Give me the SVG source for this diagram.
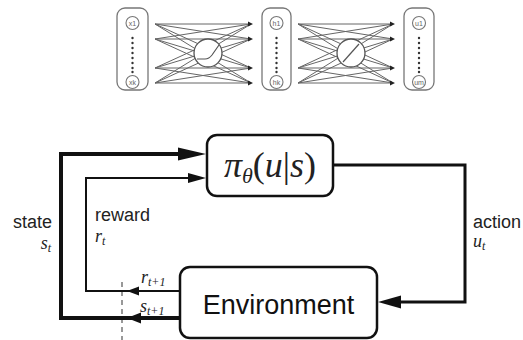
<svg xmlns="http://www.w3.org/2000/svg" width="523" height="340" viewBox="0 0 523 340">
<style>
  .col{fill:#fff;stroke:#777;stroke-width:1.3}
  .unit{fill:#fff;stroke:#777;stroke-width:1.1}
  .ut{font-family:"Liberation Sans",Arial,sans-serif;font-size:7px;fill:#666;text-anchor:middle}
  .dot{fill:#333}
  .w{stroke:#666;stroke-width:1;fill:none}
  .neu{fill:#fff;stroke:#555;stroke-width:1.3}
  .act{fill:none;stroke:#555;stroke-width:1.2}
  .tip{fill:#222}
  .box{fill:#fff;stroke:#111;stroke-width:2.5}
  .lbl{font-family:"Liberation Sans",Arial,sans-serif;font-size:18px;fill:#222}
  .m{font-family:"Liberation Serif","Times New Roman",serif;font-style:italic;fill:#222}
  .ln{fill:none;stroke:#111;stroke-linejoin:miter}
  .ah{fill:#111}
</style>
<g id="network">
  <g id="input-layer">
    <rect class="col" x="117" y="8" width="31" height="82" rx="8"/>
    <circle class="unit" cx="132.5" cy="23" r="6.5"/><text class="ut" x="132.5" y="25.5">x1</text>
    <circle class="unit" cx="132.5" cy="82" r="6.5"/><text class="ut" x="132.5" y="84.5">xk</text>
    <g class="dot"><circle cx="132.5" cy="38" r="1.2"/><circle cx="132.5" cy="43" r="1.2"/><circle cx="132.5" cy="48" r="1.2"/><circle cx="132.5" cy="53" r="1.2"/><circle cx="132.5" cy="58" r="1.2"/><circle cx="132.5" cy="63" r="1.2"/><circle cx="132.5" cy="68" r="1.2"/><circle cx="132.5" cy="72" r="1.2"/></g>
  </g>
  <g id="weights-1">
    <path class="w" d="M155 24L251 24M155 24L251 39M155 24L251 68M155 24L251 83M155 39L251 24M155 39L251 39M155 39L251 68M155 39L251 83M155 68L251 24M155 68L251 39M155 68L251 68M155 68L251 83M155 83L251 24M155 83L251 39M155 83L251 68M155 83L251 83"/>
    <circle class="neu" cx="208" cy="53" r="14"/>
    <path class="act" d="M197 59L205 59Q209 59 212 55L219 45"/>
    <path class="tip" d="M253 24l-5 -2.5v5zM253 39l-5 -2.5v5zM253 68l-5 -2.5v5zM253 83l-5 -2.5v5z"/>
  </g>
  <g id="hidden-layer">
    <rect class="col" x="262" y="8" width="29" height="82" rx="8"/>
    <circle class="unit" cx="276.5" cy="23" r="6.5"/><text class="ut" x="276.5" y="25.5">h1</text>
    <circle class="unit" cx="276.5" cy="82" r="6.5"/><text class="ut" x="276.5" y="84.5">hk</text>
    <g class="dot"><circle cx="276.5" cy="38" r="1.2"/><circle cx="276.5" cy="43" r="1.2"/><circle cx="276.5" cy="48" r="1.2"/><circle cx="276.5" cy="53" r="1.2"/><circle cx="276.5" cy="58" r="1.2"/><circle cx="276.5" cy="63" r="1.2"/><circle cx="276.5" cy="68" r="1.2"/><circle cx="276.5" cy="72" r="1.2"/></g>
  </g>
  <g id="weights-2">
    <path class="w" d="M298 24L393 24M298 24L393 39M298 24L393 68M298 24L393 83M298 39L393 24M298 39L393 39M298 39L393 68M298 39L393 83M298 68L393 24M298 68L393 39M298 68L393 68M298 68L393 83M298 83L393 24M298 83L393 39M298 83L393 68M298 83L393 83"/>
    <circle class="neu" cx="351" cy="53" r="14"/>
    <path class="act" d="M343 62L359 44"/>
    <path class="tip" d="M395 24l-5 -2.5v5zM395 39l-5 -2.5v5zM395 68l-5 -2.5v5zM395 83l-5 -2.5v5z"/>
  </g>
  <g id="output-layer">
    <rect class="col" x="404" y="8" width="30" height="82" rx="8"/>
    <circle class="unit" cx="419" cy="23" r="6.5"/><text class="ut" x="419" y="25.5">u1</text>
    <circle class="unit" cx="419" cy="82" r="6.5"/><text class="ut" x="419" y="84.5">um</text>
    <g class="dot"><circle cx="419" cy="38" r="1.2"/><circle cx="419" cy="43" r="1.2"/><circle cx="419" cy="48" r="1.2"/><circle cx="419" cy="53" r="1.2"/><circle cx="419" cy="58" r="1.2"/><circle cx="419" cy="63" r="1.2"/><circle cx="419" cy="68" r="1.2"/><circle cx="419" cy="72" r="1.2"/></g>
  </g>
</g>
<g id="connectors">
  <line x1="122" y1="282" x2="122" y2="340" stroke="#777" stroke-width="1.5" stroke-dasharray="5 4"/>
  <path class="ln" stroke-width="4" d="M180 318L61 318L61 154L180 154"/>
  <polygon class="ah" points="206,154 178,147.5 178,160.5"/>
  <polygon class="ah" points="127,318 141,312.5 141,323.5"/>
  <path class="ln" stroke-width="2" d="M180 291L86 291L86 178L190 178"/>
  <polygon class="ah" points="206,178 188,173 188,183"/>
  <polygon class="ah" points="127,291 139,286.5 139,295.5"/>
  <path class="ln" stroke-width="3" d="M333 165L465 165L465 302L398 302"/>
  <polygon class="ah" points="378,302 401,295.5 401,308.5"/>
</g>
<g id="policy">
  <rect class="box" x="207" y="135" width="126" height="61" rx="10"/>
  <text class="m" x="270" y="177" font-size="36" text-anchor="middle">π<tspan font-size="22" dy="6">θ</tspan><tspan dy="-6" font-style="normal">(</tspan>u<tspan font-style="normal">|</tspan>s<tspan font-style="normal">)</tspan></text>
</g>
<g id="environment">
  <rect class="box" x="180" y="267" width="197" height="71" rx="10"/>
  <text x="278.5" y="314" font-family="'Liberation Sans',Arial,sans-serif" font-size="27" fill="#111" text-anchor="middle">Environment</text>
</g>
<g id="labels">
  <text class="lbl" x="52" y="228" text-anchor="end">state</text>
  <text class="m" x="51" y="249" font-size="18" text-anchor="end">s<tspan font-size="12" dy="3">t</tspan></text>
  <text class="lbl" x="95" y="221">reward</text>
  <text class="m" x="95" y="242" font-size="18">r<tspan font-size="12" dy="3">t</tspan></text>
  <text class="m" x="141" y="283" font-size="18">r<tspan font-size="12" dy="3">t+1</tspan></text>
  <text class="m" x="140" y="312" font-size="18">s<tspan font-size="12" dy="3">t+1</tspan></text>
  <text class="lbl" x="473" y="228">action</text>
  <text class="m" x="473" y="247" font-size="18">u<tspan font-size="12" dy="3">t</tspan></text>
</g>
</svg>
